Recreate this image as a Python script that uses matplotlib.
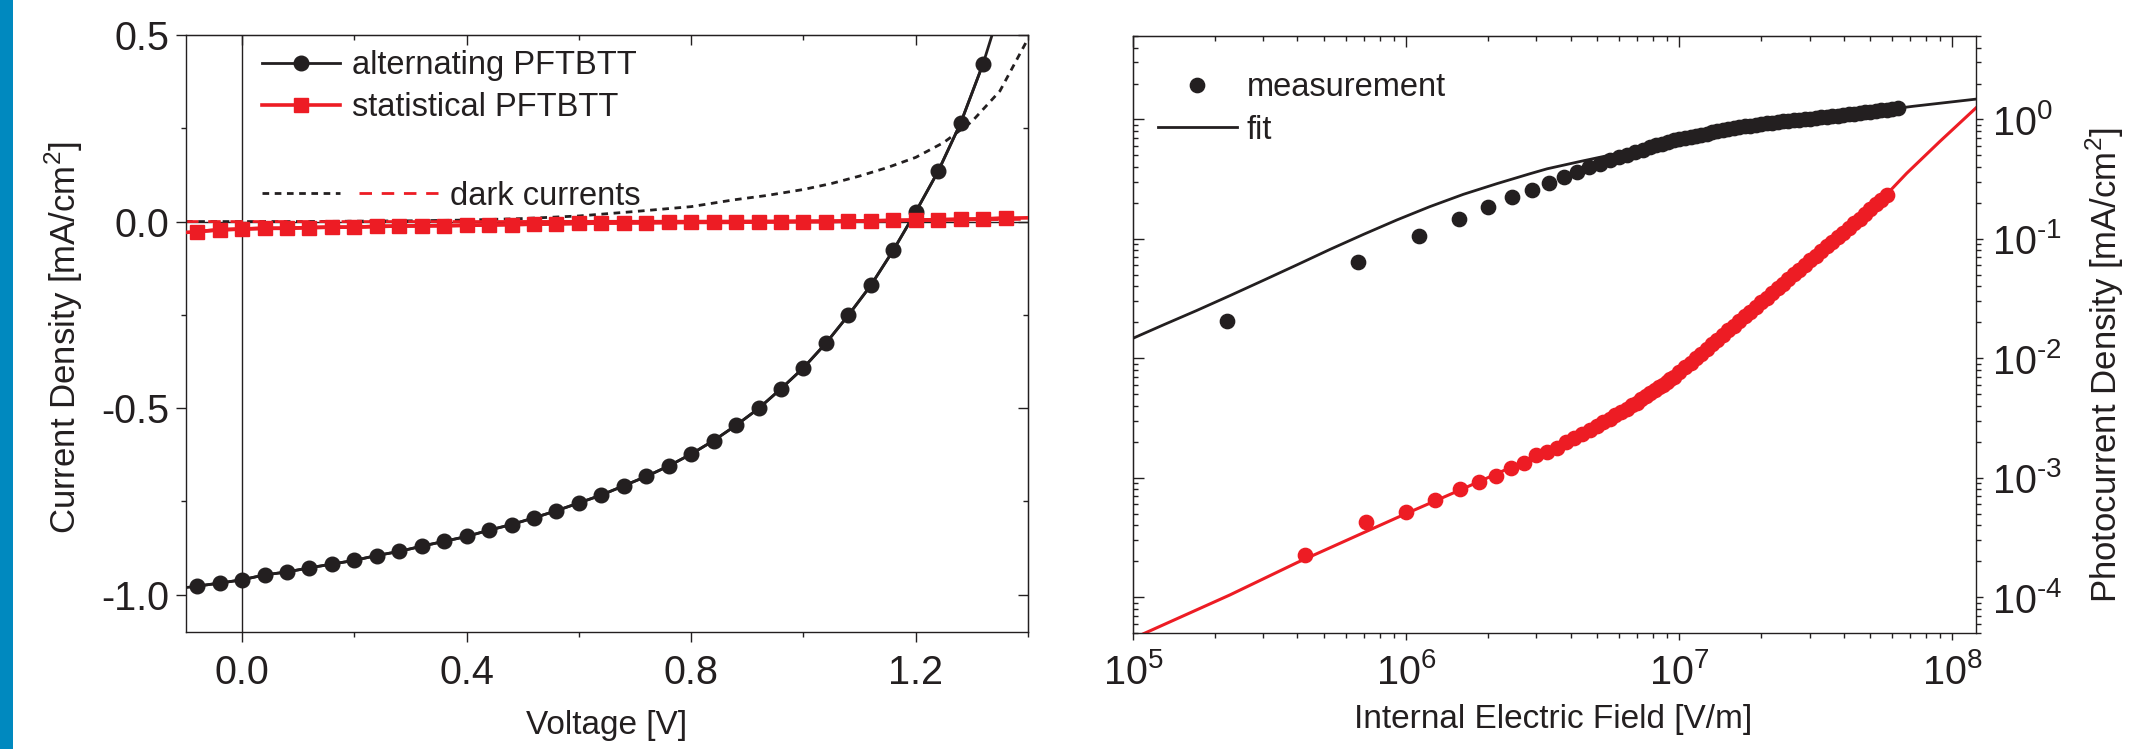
import matplotlib
matplotlib.use("Agg")
import numpy as np
import matplotlib.pyplot as plt
from matplotlib.ticker import MultipleLocator, FuncFormatter
from matplotlib.legend_handler import HandlerTuple
from matplotlib.patches import Rectangle

plt.rcParams['font.family'] = ['Liberation Sans', 'DejaVu Sans']
plt.rcParams['mathtext.fontset'] = 'custom'
plt.rcParams['mathtext.rm'] = 'Liberation Sans'
plt.rcParams['axes.unicode_minus'] = False

INK = '#231f20'
RED = '#ed1c24'
BLUE = '#0089bf'

# ---- left panel: J-V curves ----
alt_v = [-0.08, -0.04, 0.00, 0.04, 0.08, 0.12, 0.16, 0.20, 0.24, 0.28, 0.32, 0.36,
         0.40, 0.44, 0.48, 0.52, 0.56, 0.60, 0.64, 0.68, 0.72, 0.76, 0.80, 0.84,
         0.88, 0.92, 0.96, 1.00, 1.04, 1.08, 1.12, 1.16, 1.20, 1.24, 1.28, 1.32]
alt_j = [-0.977, -0.969, -0.960, -0.947, -0.939, -0.928, -0.918, -0.908, -0.895,
         -0.884, -0.870, -0.857, -0.844, -0.827, -0.812, -0.794, -0.775, -0.754,
         -0.733, -0.708, -0.683, -0.655, -0.623, -0.587, -0.546, -0.501, -0.448,
         -0.392, -0.326, -0.251, -0.171, -0.077, 0.026, 0.135, 0.264, 0.423]
alt_edge_v = [-0.10, 1.336]
alt_edge_j = [-0.981, 0.50]

stat_v = [-0.08, -0.04, 0.00, 0.04, 0.08, 0.12, 0.16, 0.20, 0.24, 0.28, 0.32, 0.36,
          0.40, 0.44, 0.48, 0.52, 0.56, 0.60, 0.64, 0.68, 0.72, 0.76, 0.80, 0.84,
          0.88, 0.92, 0.96, 1.00, 1.04, 1.08, 1.12, 1.16, 1.20, 1.24, 1.28, 1.32, 1.36]
stat_j = [-0.027, -0.022, -0.020, -0.018, -0.018, -0.016, -0.015, -0.015, -0.013,
          -0.012, -0.0115, -0.011, -0.010, -0.009, -0.008, -0.007, -0.006, -0.005,
          -0.004, -0.0035, -0.003, -0.0025, -0.002, -0.002, -0.002, -0.001, -0.0005,
          0.000, 0.000, 0.001, 0.002, 0.003, 0.004, 0.005, 0.006, 0.007, 0.009]
stat_edge_v = [-0.10, 1.40]
stat_edge_j = [-0.029, 0.010]

dark_alt_v = [-0.10, 0.0, 0.1, 0.2, 0.3, 0.4, 0.5, 0.6, 0.7, 0.8, 0.875, 0.935,
              1.0, 1.05, 1.1, 1.15, 1.2, 1.25, 1.3, 1.35, 1.4]
dark_alt_j = [0.0, 0.0, 0.0, 0.001, 0.002, 0.004, 0.008, 0.015, 0.027, 0.040, 0.058,
              0.070, 0.086, 0.102, 0.122, 0.145, 0.172, 0.212, 0.268, 0.350, 0.49]
dark_stat_v = [-0.10, 0.4, 0.8, 1.2, 1.4]
dark_stat_j = [0.0, 0.0, 0.001, 0.003, 0.006]

# ---- right panel: photocurrent vs field ----
meas_e = [2.20e5, 6.65e5, 1.11e6, 1.56e6, 2.00e6, 2.44e6, 2.89e6, 3.34e6, 3.78e6,
          4.23e6, 4.67e6, 5.12e6, 5.56e6, 6.01e6, 6.45e6, 6.90e6, 7.34e6, 7.79e6,
          8.23e6, 8.68e6, 9.12e6, 9.57e6,
          1.00e7, 1.05e7, 1.10e7, 1.15e7, 1.20e7, 1.26e7, 1.32e7, 1.38e7, 1.45e7,
          1.51e7, 1.58e7, 1.66e7, 1.74e7, 1.82e7, 1.91e7, 2.00e7, 2.09e7, 2.19e7,
          2.29e7, 2.40e7, 2.51e7, 2.63e7, 2.75e7, 2.88e7, 3.02e7, 3.16e7, 3.31e7,
          3.47e7, 3.63e7, 3.80e7, 3.98e7, 4.17e7, 4.37e7, 4.57e7, 4.79e7, 5.01e7,
          5.25e7, 5.50e7, 5.75e7, 6.03e7, 6.31e7]
meas_j = [0.0205, 0.0635, 0.106, 0.146, 0.185, 0.223, 0.258, 0.296, 0.330, 0.364,
          0.398, 0.427, 0.455, 0.482, 0.508, 0.535, 0.560, 0.585, 0.607, 0.628,
          0.648, 0.667,
          0.684, 0.700, 0.715, 0.731, 0.745, 0.762, 0.780, 0.794, 0.813, 0.828,
          0.847, 0.861, 0.875, 0.887, 0.902, 0.916, 0.929, 0.940, 0.953, 0.964,
          0.977, 0.986, 0.998, 1.007, 1.018, 1.028, 1.040, 1.052, 1.066, 1.079,
          1.091, 1.104, 1.117, 1.132, 1.146, 1.159, 1.175, 1.189, 1.205, 1.219, 1.236]
fit_e = [1.0e5, 1.29e5, 1.71e5, 2.26e5, 3.0e5, 3.98e5, 5.27e5, 6.98e5, 9.25e5,
         1.22e6, 1.62e6, 2.15e6, 2.84e6, 3.28e6, 4.34e6, 5.74e6, 7.6e6, 1.0e7,
         1.34e7, 1.77e7, 2.34e7, 3.1e7, 4.11e7, 5.45e7, 7.2e7, 1.22e8]
fit_j = [0.0147, 0.0190, 0.0251, 0.0334, 0.0449, 0.0605, 0.0817, 0.109, 0.144,
         0.186, 0.236, 0.290, 0.351, 0.386, 0.445, 0.51, 0.59, 0.685, 0.775, 0.86,
         0.94, 1.02, 1.10, 1.19, 1.29, 1.48]

stat_meas_e = [4.28e5, 7.13e5, 9.98e5, 1.28e6, 1.57e6, 1.85e6, 2.14e6, 2.42e6,
               2.71e6, 2.99e6, 3.28e6, 3.56e6, 3.85e6, 4.13e6, 4.42e6, 4.70e6,
               4.99e6, 5.27e6, 5.56e6, 5.84e6, 6.13e6, 6.41e6, 6.70e6, 6.98e6,
               7.27e6, 7.55e6, 7.84e6, 8.12e6, 8.41e6, 8.69e6, 8.98e6, 9.26e6, 9.55e6,
               1.00e7, 1.05e7, 1.10e7, 1.15e7, 1.20e7, 1.26e7, 1.32e7, 1.38e7, 1.45e7,
               1.51e7, 1.58e7, 1.66e7, 1.74e7, 1.82e7, 1.91e7, 2.00e7, 2.09e7, 2.19e7,
               2.29e7, 2.40e7, 2.51e7, 2.63e7, 2.75e7, 2.88e7, 3.02e7, 3.16e7, 3.31e7,
               3.47e7, 3.63e7, 3.80e7, 3.98e7, 4.17e7, 4.37e7, 4.57e7, 4.79e7, 5.01e7,
               5.25e7, 5.50e7, 5.75e7]
stat_meas_j = [2.25e-4, 4.22e-4, 5.18e-4, 6.44e-4, 8.0e-4, 9.2e-4, 1.03e-3, 1.21e-3,
               1.33e-3, 1.56e-3, 1.64e-3, 1.78e-3, 1.99e-3, 2.14e-3, 2.33e-3, 2.52e-3,
               2.72e-3, 2.91e-3, 3.12e-3, 3.33e-3, 3.56e-3, 3.79e-3, 4.03e-3, 4.26e-3,
               4.52e-3, 4.80e-3, 5.08e-3, 5.40e-3, 5.70e-3, 6.00e-3, 6.32e-3, 6.65e-3,
               6.98e-3,
               7.64e-3, 8.39e-3, 9.18e-3, 1.00e-2, 1.09e-2, 1.20e-2, 1.32e-2, 1.43e-2,
               1.57e-2, 1.71e-2, 1.87e-2, 2.05e-2, 2.25e-2, 2.45e-2, 2.70e-2, 2.95e-2,
               3.21e-2, 3.52e-2, 3.85e-2, 4.21e-2, 4.60e-2, 5.04e-2, 5.48e-2, 6.00e-2,
               6.59e-2, 7.21e-2, 7.89e-2, 8.63e-2, 9.44e-2, 0.103, 0.113, 0.124, 0.135,
               0.148, 0.162, 0.177, 0.194, 0.212, 0.232]
stat_fit_e = [1.0e5, 2.26e5, 4.0e5, 7.1e5, 1.0e6, 1.62e6, 2.15e6, 3.1e6, 4.1e6,
              5.43e6, 7.2e6, 9.53e6, 1.26e7, 1.67e7, 2.21e7, 2.93e7, 3.89e7, 5.15e7,
              6.0e7, 6.8e7, 9.0e7, 1.22e8]
stat_fit_j = [4.5e-5, 1.04e-4, 1.95e-4, 3.52e-4, 5.0e-4, 8.1e-4, 1.08e-3, 1.59e-3,
              2.12e-3, 3.02e-3, 4.43e-3, 6.95e-3, 1.2e-2, 2.07e-2, 3.68e-2, 6.76e-2,
              0.113, 0.191, 0.262, 0.354, 0.655, 1.25]

W, H = 2138, 749
fig = plt.figure(figsize=(W / 100, H / 100), dpi=100)
fig.patches.append(Rectangle((0, 0), 12.5 / W, 1, transform=fig.transFigure,
                             facecolor=BLUE, edgecolor='none'))

ax1 = fig.add_axes([186 / W, 117 / H, 842 / W, 597 / H])
ax2 = fig.add_axes([1133 / W, 116 / H, 843 / W, 597 / H])

TICK_FS = 28.5
LAB_FS = 24
LEG_FS = 23.5


def log_fmt(x, pos):
    e = int(round(np.log10(x)))
    s = str(e).replace('-', '\u2010')
    return '$\\mathregular{10^{%s}}$' % s


# ---------------- left panel ----------------
ax1.axhline(0, color=INK, lw=1.0, zorder=1)
ax1.axvline(0, color=INK, lw=1.0, zorder=1)
h_dark_alt, = ax1.plot(dark_alt_v, dark_alt_j, color=INK, lw=2.0,
                       dashes=(2.4, 2.0), zorder=2)
h_dark_stat, = ax1.plot(dark_stat_v, dark_stat_j, color=RED, lw=2.0,
                        dashes=(4.5, 3.5), zorder=2)
ax1.plot([alt_edge_v[0]] + alt_v + [alt_edge_v[1]],
         [alt_edge_j[0]] + alt_j + [alt_edge_j[1]], color=INK, lw=2.0, zorder=3)
h_alt, = ax1.plot(alt_v, alt_j, color=INK, lw=2.0, marker='o', ms=10.5, zorder=3)
ax1.plot([stat_edge_v[0]] + stat_v + [stat_edge_v[1]],
         [stat_edge_j[0]] + stat_j + [stat_edge_j[1]], color=RED, lw=2.6, zorder=4)
h_stat, = ax1.plot(stat_v, stat_j, color=RED, lw=2.6, marker='s', ms=10, zorder=4)

ax1.set_xlim(-0.1, 1.4)
ax1.set_ylim(-1.1, 0.5)
ax1.xaxis.set_major_locator(MultipleLocator(0.4))
ax1.xaxis.set_minor_locator(MultipleLocator(0.2))
ax1.yaxis.set_major_locator(MultipleLocator(0.5))
ax1.yaxis.set_minor_locator(MultipleLocator(0.25))
ax1.xaxis.set_major_formatter(lambda x, p: f'{x:.1f}')
ax1.yaxis.set_major_formatter(lambda x, p: f'{x:.1f}')
ax1.tick_params(which='both', direction='out', top=False, right=False,
                width=1.0, colors=INK, labelsize=TICK_FS)
ax1.tick_params(which='major', length=7.2)
ax1.tick_params(which='minor', length=3.6)
ax1.tick_params(axis='x', pad=9)
ax1.tick_params(axis='y', pad=5)

top1 = ax1.secondary_xaxis('top')
top1.xaxis.set_major_locator(MultipleLocator(0.4))
top1.xaxis.set_minor_locator(MultipleLocator(0.2))
top1.tick_params(which='both', direction='in', labeltop=False, width=1.0, colors=INK)
top1.tick_params(which='major', length=7.2)
top1.tick_params(which='minor', length=3.6)
right1 = ax1.secondary_yaxis('right')
right1.yaxis.set_major_locator(MultipleLocator(0.5))
right1.yaxis.set_minor_locator(MultipleLocator(0.25))
right1.tick_params(which='both', direction='in', labelright=False, width=1.0, colors=INK)
right1.tick_params(which='major', length=7.2)
right1.tick_params(which='minor', length=3.6)

ax1.set_xlabel('Voltage [V]', fontsize=LAB_FS, color=INK)
ax1.set_ylabel(r'Current Density [mA/cm$^\mathregular{2}$]', fontsize=25, color=INK)
ax1.xaxis.set_label_coords(0.5, -0.131)
ax1.yaxis.set_label_coords(-0.120, 0.4925)

leg1 = ax1.legend([h_alt, h_stat], ['alternating PFTBTT', 'statistical PFTBTT'],
                  loc='upper left', bbox_to_anchor=(0.09, 0.975), borderaxespad=0,
                  borderpad=0, frameon=False, fontsize=LEG_FS, handlelength=2.41,
                  handletextpad=0.34, labelspacing=0.34, numpoints=1, labelcolor=INK)
ax1.add_artist(leg1)
ax1.legend([(h_dark_alt, h_dark_stat)], ['dark currents'],
           handler_map={tuple: HandlerTuple(ndivide=None, pad=0.58)},
           loc='upper left', bbox_to_anchor=(0.09, 0.756), borderaxespad=0,
           borderpad=0, frameon=False, fontsize=LEG_FS, handlelength=5.39,
           handletextpad=0.37, labelcolor=INK)

# ---------------- right panel ----------------
ax2.set_xscale('log')
ax2.set_yscale('log')
ax2.plot(fit_e, fit_j, color=INK, lw=2.0, zorder=2)
ax2.plot(stat_fit_e, stat_fit_j, color=RED, lw=2.2, zorder=2)
h_meas, = ax2.plot(meas_e, meas_j, ls='none', marker='o', ms=10.3, color=INK, zorder=3)
ax2.plot(stat_meas_e, stat_meas_j, ls='none', marker='o', ms=10.3, color=RED, zorder=3)
h_fit, = ax2.plot([], [], color=INK, lw=2.0)

ax2.set_xlim(1e5, 1.22e8)
ax2.set_ylim(5.0e-5, 5.0)
ax2.xaxis.set_major_formatter(FuncFormatter(log_fmt))
ax2.yaxis.set_major_formatter(FuncFormatter(log_fmt))
ax2.yaxis.tick_right()
ax2.yaxis.set_label_position('right')
ax2.tick_params(which='both', direction='out', top=False, left=False,
                right=True, width=1.0, colors=INK, labelsize=TICK_FS)
ax2.tick_params(which='major', length=5.2)
ax2.tick_params(which='minor', length=3.6)
ax2.tick_params(axis='x', pad=9)
ax2.tick_params(axis='y', pad=6)

top2 = ax2.secondary_xaxis('top')
top2.tick_params(which='both', direction='in', labeltop=False, width=1.0, colors=INK)
top2.tick_params(which='major', length=7.7)
top2.tick_params(which='minor', length=3.6)
left2 = ax2.secondary_yaxis('left')
left2.tick_params(which='both', direction='in', labelleft=False, width=1.0, colors=INK)
left2.tick_params(which='major', length=7.7)
left2.tick_params(which='minor', length=3.6)

ax2.set_xlabel('Internal Electric Field [V/m]', fontsize=LAB_FS, color=INK)
ax2.set_ylabel(r'Photocurrent Density [mA/cm$^\mathregular{2}$]', fontsize=25,
               color=INK, rotation=90)
ax2.xaxis.set_label_coords(0.498, -0.119)
ax2.yaxis.set_label_coords(1.128, 0.4497)
ax2.yaxis.label.set_va('top')

ax2.legend([h_meas, h_fit], ['measurement', 'fit'], loc='upper left',
           bbox_to_anchor=(0.0297, 0.939), borderaxespad=0, borderpad=0,
           frameon=False, fontsize=LEG_FS, handlelength=2.41, handletextpad=0.31,
           labelspacing=0.34, numpoints=1, labelcolor=INK)

for ax in (ax1, ax2):
    for s in ax.spines.values():
        s.set_linewidth(1.0)
        s.set_color(INK)

fig.savefig('out.png', dpi=100)
